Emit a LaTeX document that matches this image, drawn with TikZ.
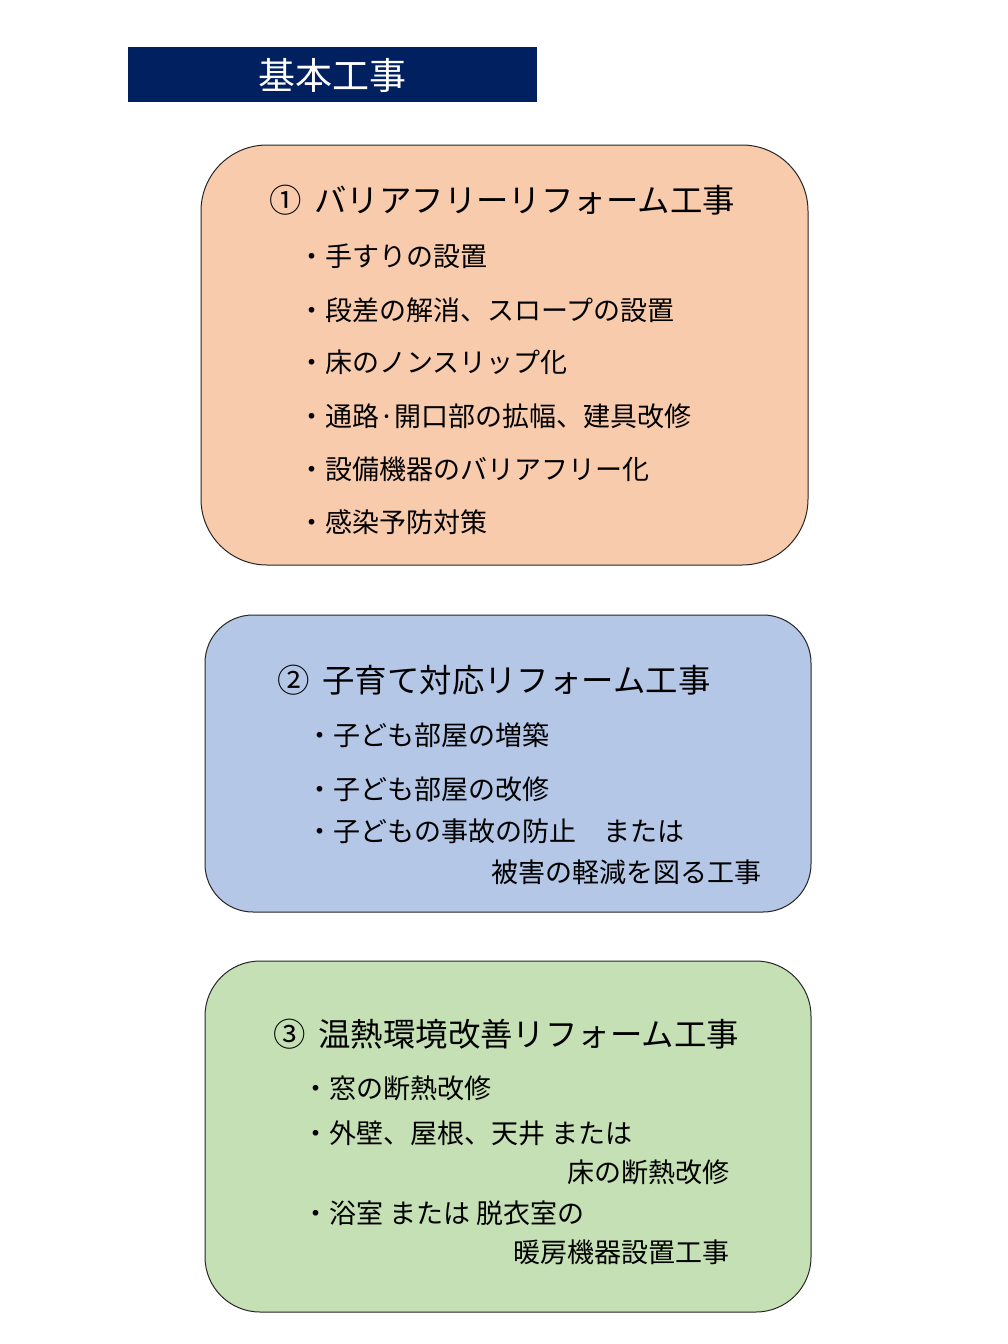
\documentclass[tikz,border=0pt]{standalone}
\usepackage{fontspec}
\setmainfont{Noto Sans CJK JP}
\definecolor{navy}{HTML}{002060}
\definecolor{peach}{HTML}{F8CBAD}
\definecolor{lblue}{HTML}{B4C7E7}
\definecolor{lgreen}{HTML}{C5E0B4}
\tikzset{
  panel/.style={draw=black!85, line width=1pt},
  ttl/.style={anchor=west, inner sep=0pt, font=\fontsize{32.4}{32.4}\selectfont, text height=28.5pt, text depth=3.9pt},
  itm/.style={anchor=west, inner sep=0pt, font=\fontsize{27}{27}\selectfont, text height=23.76pt, text depth=3.24pt},
  itmr/.style={itm, anchor=east},
}
\newcommand{\numgap}{\hspace{13pt}}
\begin{document}
\begin{tikzpicture}[x=1pt,y=-1pt]
\path[use as bounding box] (0,0) rectangle (1008,1344);
% header
\fill[navy] (128,47) rectangle (537,102);
\node[text=white, inner sep=0pt, font=\fontsize{37}{37}\selectfont, text height=32.56pt, text depth=4.44pt] (hdr) at (332.5,75) {基本工事};
% panel 1
\draw[panel, fill=peach, rounded corners=66pt] (201,145) rectangle (808,565);
\node[ttl] (t1) at (269,200) {①\numgap バリアフリーリフォーム工事};
\node[itm] (a1) at (298,256) {・手すりの設置};
\node[itm] (a2) at (298,310) {・段差の解消、スロープの設置};
\node[itm] (a3) at (298,362) {・床のノンスリップ化};
\node[itm] (a4) at (298,416) {・通路·開口部の拡幅、建具改修};
\node[itm] (a5) at (298,469) {・設備機器のバリアフリー化};
\node[itm] (a6) at (298,522) {・感染予防対策};
% panel 2
\draw[panel, fill=lblue, rounded corners=48pt] (205,615) rectangle (811,912);
\node[ttl] (t2) at (277,680) {②\numgap 子育て対応リフォーム工事};
\node[itm] (b1) at (306,735) {・子ども部屋の増築};
\node[itm] (b2) at (306,789) {・子ども部屋の改修};
\node[itm] (b3) at (306,831) {・子どもの事故の防止　または};
\node[itmr] (b4) at (762,872) {被害の軽減を図る工事};
% panel 3
\draw[panel, fill=lgreen, rounded corners=55pt] (205,961) rectangle (811,1312);
\node[ttl] (t3) at (273,1034) {③\numgap 温熱環境改善リフォーム工事};
\node[itm] (c1) at (302,1088) {・窓の断熱改修};
\node[itm] (c2) at (302,1133) {・外壁、屋根、天井 または};
\node[itmr] (c3) at (730,1172) {床の断熱改修};
\node[itm] (c4) at (302,1213) {・浴室 または 脱衣室の};
\node[itmr] (c5) at (730,1252) {暖房機器設置工事};
\end{tikzpicture}
\end{document}
